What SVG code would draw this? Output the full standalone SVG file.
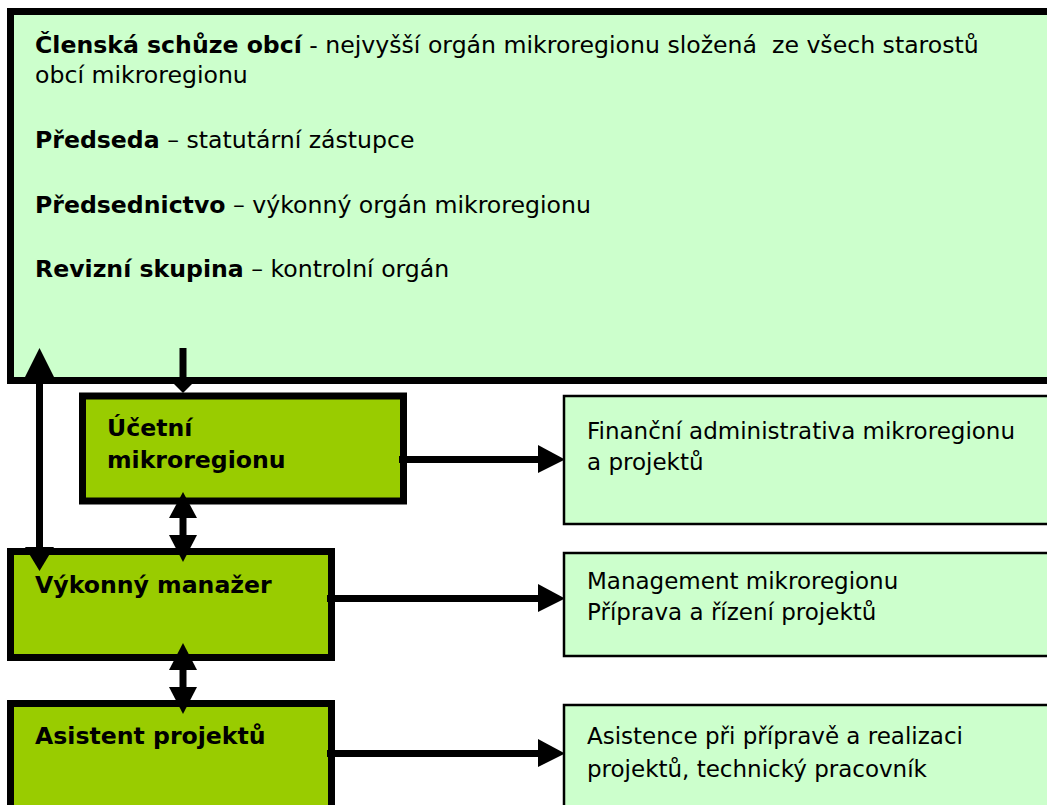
<svg xmlns="http://www.w3.org/2000/svg" width="1047" height="805" viewBox="0 0 1047 805">
<style>
text { font-family: "DejaVu Sans", Verdana, sans-serif; font-size: 23.6px; fill: #000; white-space: pre; }
text.r { font-size: 23px; }
.b { font-weight: bold; }
.main { fill: #CCFFCC; stroke: #000; stroke-width: 7; }
.role { fill: #99CC00; stroke: #000; stroke-width: 7; }
.desc { fill: #CCFFCC; stroke: #000; stroke-width: 2.5; }
.ln { stroke: #000; stroke-width: 7; fill: none; }
.hd { fill: #000; }
</style>
<rect x="0" y="0" width="1047" height="805" fill="#fff"/>
<g id="clenska-schuze">
  <rect class="main" x="10.5" y="11.5" width="1060" height="369"/>
  <text x="35" y="53"><tspan class="b">Členská schůze obcí</tspan> - nejvyšší orgán mikroregionu složená  ze všech starostů</text>
  <text x="35" y="83">obcí mikroregionu</text>
  <text x="35" y="148"><tspan class="b">Předseda</tspan> – statutární zástupce</text>
  <text x="35" y="213"><tspan class="b">Předsednictvo</tspan> – výkonný orgán mikroregionu</text>
  <text x="35" y="277"><tspan class="b">Revizní skupina</tspan> – kontrolní orgán</text>
</g>
<g id="ucetni">
  <rect class="role" x="82.5" y="396" width="321" height="105"/>
  <text class="b" x="107" y="436">Účetní</text>
  <text class="b" x="107" y="468">mikroregionu</text>
</g>
<g id="vykonny-manazer">
  <rect class="role" x="10.5" y="551.5" width="321" height="106"/>
  <text class="b" x="35" y="593">Výkonný manažer</text>
</g>
<g id="asistent-projektu">
  <rect class="role" x="10.5" y="703.5" width="321" height="200"/>
  <text class="b" x="35" y="744">Asistent projektů</text>
</g>
<g id="financni-administrativa">
  <rect class="desc" x="564" y="396" width="500" height="128"/>
  <text class="r" x="587" y="439">Finanční administrativa mikroregionu</text>
  <text class="r" x="587" y="470">a projektů</text>
</g>
<g id="management">
  <rect class="desc" x="564" y="553" width="500" height="103"/>
  <text class="r" x="587" y="589">Management mikroregionu</text>
  <text class="r" x="587" y="620">Příprava a řízení projektů</text>
</g>
<g id="asistence">
  <rect class="desc" x="564" y="705" width="500" height="200"/>
  <text class="r" x="587" y="744">Asistence při přípravě a realizaci</text>
  <text class="r" x="587" y="777">projektů, technický pracovník</text>
</g>
<g id="connectors">
  <line class="ln" x1="39.5" y1="370" x2="39.5" y2="552"/>
  <polygon class="hd" points="39.5,348 25,377 54,377"/>
  <polygon class="hd" points="25,547 54,547 39.5,571"/>
  <line class="ln" x1="183" y1="348" x2="183" y2="383"/>
  <polygon class="hd" points="171,381 195,381 183,393"/>
  <line class="ln" x1="183" y1="512" x2="183" y2="540"/>
  <polygon class="hd" points="183,492 169,518 197,518"/>
  <polygon class="hd" points="169,535 197,535 183,562"/>
  <line class="ln" x1="183" y1="663" x2="183" y2="692"/>
  <polygon class="hd" points="183,643 169,670 197,670"/>
  <polygon class="hd" points="169,687 197,687 183,714"/>
  <line class="ln" x1="399" y1="459.5" x2="542" y2="459.5"/>
  <polygon class="hd" points="538,445 565,459.5 538,473"/>
  <line class="ln" x1="327" y1="598.5" x2="542" y2="598.5"/>
  <polygon class="hd" points="538,584 565,598.5 538,612"/>
  <line class="ln" x1="327" y1="753.5" x2="542" y2="753.5"/>
  <polygon class="hd" points="538,739 565,753.5 538,767"/>
</g>
</svg>
